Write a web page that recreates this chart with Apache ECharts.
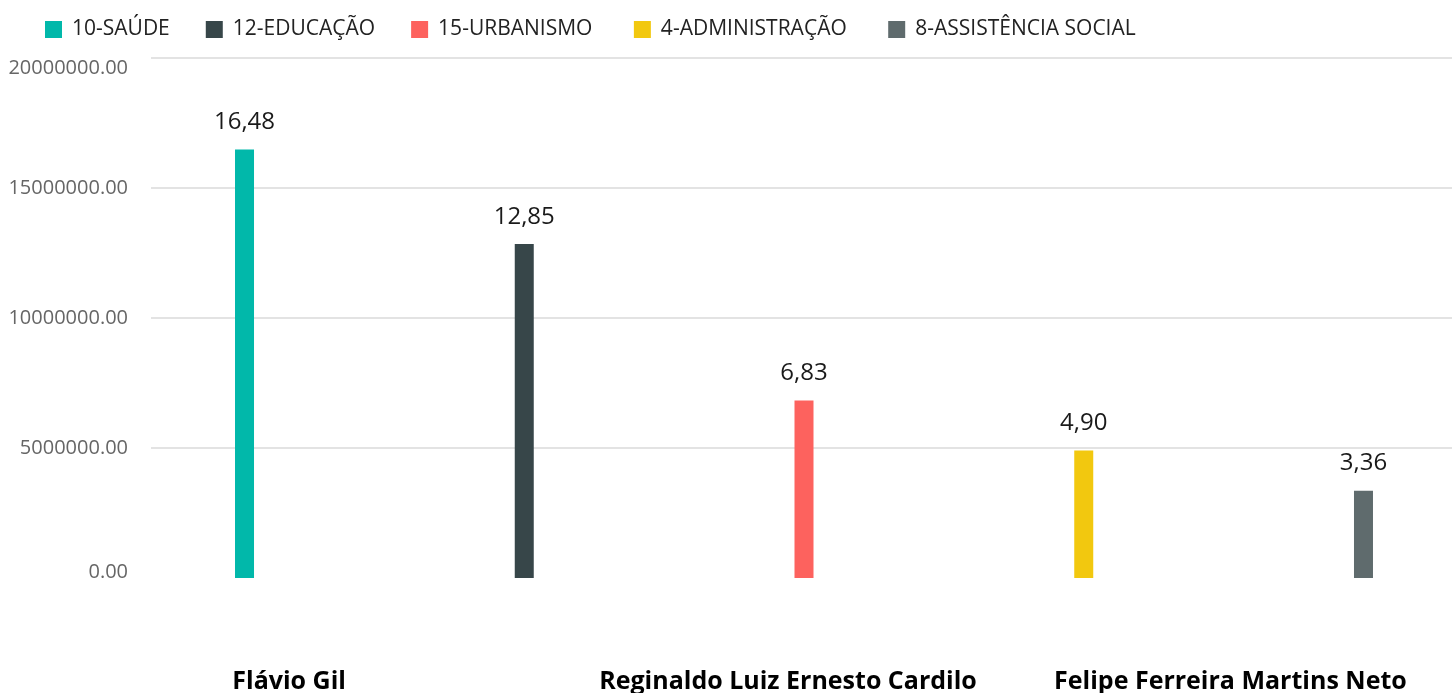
<!DOCTYPE html>
<html>
<head>
<meta charset="utf-8">
<script src="https://cdn.jsdelivr.net/npm/echarts@6/dist/echarts.min.js"></script>
<style>
html,body{margin:0;padding:0;background:#fff;}
#chart{width:1452px;height:693px;}
</style>
</head>
<body>
<div id="chart"></div>
<script>
// Categories (labels for index 1 and 3 are hidden in the reference)
const categories = ['Flávio Gil', '', 'Reginaldo Luiz Ernesto Cardilo', '', 'Felipe Ferreira Martins Neto'];
const seriesNames = ['10-SAÚDE', '12-EDUCAÇÃO', '15-URBANISMO', '4-ADMINISTRAÇÃO', '8-ASSISTÊNCIA SOCIAL'];
const seriesValues = [16480000, 12850000, 6830000, 4900000, 3360000];
const colors = ['#01B8AA', '#374649', '#FD625E', '#F2C80F', '#5F6B6D'];
const yTicks = [0, 5000000, 10000000, 15000000, 20000000];

const FONT = "'Segoe UI', 'Open Sans', sans-serif";
const labelShift = {0: [0, 0, 0, 15], 2: [0, 32, 0, 0], 4: [0, 192, 0, 0]};
const legendExtra = [0, 0, 4, 10, 0];

const series = seriesNames.map((name, i) => ({
  name: name,
  type: 'bar',
  barWidth: 19,
  barGap: '-2.4%',
  itemStyle: {color: colors[i]},
  data: categories.map((c, j) => j === i ? seriesValues[i] : null),
  label: {
    show: true,
    position: 'top',
    distance: 15,
    fontFamily: FONT,
    fontSize: 24,
    color: '#1a1a1a',
    formatter: p => (p.value / 1e6).toFixed(2).replace('.', ',')
  }
}));

const rich = {};
[0, 2, 4].forEach(k => {
  rich['l' + k] = {fontFamily: FONT, fontSize: 25, fontWeight: 'bold', color: '#000', padding: labelShift[k]};
});
const legendRich = {};
seriesNames.forEach((n, i) => {
  legendRich['g' + i] = {fontFamily: FONT, fontSize: 21, color: '#222', padding: [0, 0, 0, 5]};
  legendRich['s' + i] = {fontFamily: FONT, fontSize: 21, width: legendExtra[i]};
});

const yMax = yTicks[yTicks.length - 1];

const chart = echarts.init(document.getElementById('chart'));
chart.setOption({
  animation: false,
  color: colors,
  legend: {
    left: 40,
    top: 14,
    itemWidth: 17,
    itemHeight: 17,
    itemGap: 36,
    icon: 'rect',
    textStyle: {fontFamily: FONT, fontSize: 21, color: '#222', rich: legendRich},
    formatter: name => {
      const i = seriesNames.indexOf(name);
      return '{g' + i + '|' + name + '}' + (legendExtra[i] ? '{s' + i + '| }' : '');
    },
    data: seriesNames
  },
  grid: {left: 151, right: -5, top: 58, bottom: 115, containLabel: false, outerBoundsMode: 'none'},
  xAxis: {
    type: 'category',
    data: categories,
    axisLine: {show: false},
    axisTick: {show: false},
    axisLabel: {
      interval: 1,
      margin: 91,
      fontFamily: FONT,
      fontSize: 25,
      fontWeight: 'bold',
      color: '#000',
      formatter: (v, idx) => '{l' + idx + '|' + v + '}',
      rich: rich
    }
  },
  yAxis: {
    type: 'value',
    min: yTicks[0],
    max: yMax,
    interval: yTicks[1] - yTicks[0],
    axisLine: {show: false},
    axisTick: {show: false},
    splitLine: {show: true, showMinLine: false, lineStyle: {color: '#e3e3e3', width: 2}},
    axisLabel: {
      margin: 23,
      fontFamily: FONT,
      fontSize: 20,
      color: '#666',
      formatter: v => v === 0 ? '{z|0.00}' : (v === yMax ? '{t|' + v.toFixed(2) + '}' : v.toFixed(2)),
      rich: {
        z: {fontFamily: FONT, fontSize: 20, color: '#666', padding: [0, 0, 12, 0]},
        t: {fontFamily: FONT, fontSize: 20, color: '#666', padding: [20, 0, 0, 0]}
      }
    }
  },
  series: series
});
</script>
</body>
</html>
